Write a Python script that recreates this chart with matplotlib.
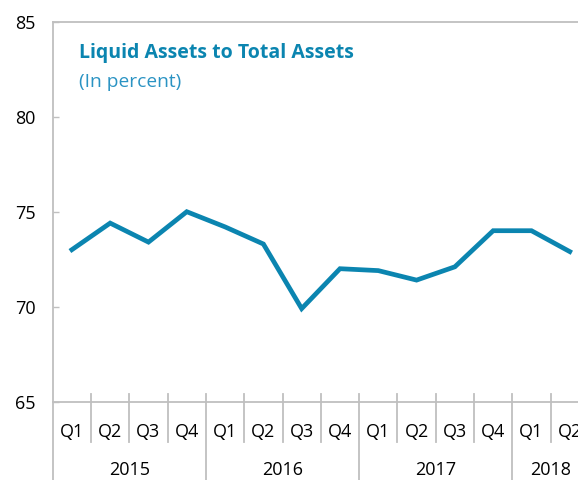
import numpy as np
import matplotlib.pyplot as plt

years = ['2015', '2016', '2017', '2018']
quarters = ['Q1', 'Q2', 'Q3', 'Q4', 'Q1', 'Q2', 'Q3', 'Q4',
            'Q1', 'Q2', 'Q3', 'Q4', 'Q1', 'Q2']
quarter_year = [0, 0, 0, 0, 1, 1, 1, 1, 2, 2, 2, 2, 3, 3]
liquid_ratio = [73.0, 74.4, 73.4, 75.0, 74.2, 73.3, 69.9, 72.0,
                71.9, 71.4, 72.1, 74.0, 74.0, 72.9]

plt.rcParams['font.family'] = ['Open Sans', 'DejaVu Sans']

blue = '#0b85b0'
grey = '#bfbfbf'

fig = plt.figure(figsize=(5.78, 4.8), dpi=100)
ax = fig.add_axes([0.0912, 0.1631, 0.9277, 0.7917])

x = np.arange(len(quarters))
ax.plot(x, liquid_ratio, color=blue, lw=3.4, solid_joinstyle='miter', zorder=3)

ax.set_xlim(-0.5, len(quarters) - 0.5)
ax.set_ylim(65, 85)
ax.set_yticks([65, 70, 75, 80, 85])
ax.tick_params(axis='y', direction='in', length=4.3, width=1, color=grey,
               labelsize=13, pad=12.5)
ax.set_xticks([])

for s in ['left', 'top', 'bottom', 'right']:
    ax.spines[s].set_color(grey)
    ax.spines[s].set_linewidth(1.3)

# separators between quarters, longer ones between years
trans = ax.get_xaxis_transform()
for i in range(1, len(quarters)):
    if quarter_year[i] != quarter_year[i - 1]:
        ax.plot([i - 0.5, i - 0.5], [0.02, -0.21], color=grey, lw=1.3,
                transform=trans, clip_on=False)
    else:
        ax.plot([i - 0.5, i - 0.5], [0.02, -0.105], color=grey, lw=1.3,
                transform=trans, clip_on=False)
ax.plot([-0.5, -0.5], [0, -0.21], color=grey, lw=1.3, transform=trans,
        clip_on=False)

for i, q in enumerate(quarters):
    ax.text(i, -0.079, q, transform=trans, ha='center', va='center',
            fontsize=13, color='black')

for k, yr in enumerate(years):
    idx = [i for i, y in enumerate(quarter_year) if y == k]
    ax.text(np.mean(idx), -0.18, yr, transform=trans, ha='center',
            va='center', fontsize=13, color='black')

fig.text(79 / 578, 1 - 53 / 480, 'Liquid Assets to Total Assets',
         fontsize=14, fontweight='bold', color=blue, va='center', ha='left')
fig.text(79 / 578, 1 - 82 / 480, '(In percent)', fontsize=13.8,
         color='#2a93c3', va='center', ha='left')

fig.savefig('out.png', dpi=100)
